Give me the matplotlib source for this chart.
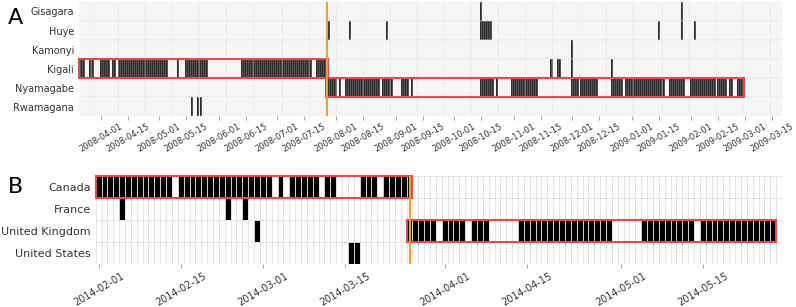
import numpy as np
import pandas as pd
import matplotlib.pyplot as plt
from matplotlib.colors import ListedColormap
from matplotlib.patches import Rectangle

# ---- panel A: districts ----
a_start, a_end = "2008-03-21", "2009-03-20"
a_names = ["Gisagara", "Huye", "Kamonyi", "Kigali", "Nyamagabe", "Rwamagana"]
gisagara = [("2008-10-15", "2008-10-15"), ("2009-01-27", "2009-01-27")]
huye = [("2008-07-28", "2008-07-28"), ("2008-08-08", "2008-08-08"),
        ("2008-08-27", "2008-08-27"), ("2008-10-15", "2008-10-20"),
        ("2009-01-15", "2009-01-15"), ("2009-01-27", "2009-01-27"),
        ("2009-02-03", "2009-02-03")]
kamonyi = [("2008-12-01", "2008-12-01")]
kigali = [("2008-03-21", "2008-03-23"), ("2008-03-26", "2008-03-28"),
          ("2008-04-01", "2008-04-05"), ("2008-04-07", "2008-04-08"),
          ("2008-04-10", "2008-05-05"), ("2008-05-11", "2008-05-11"),
          ("2008-05-15", "2008-05-26"), ("2008-06-13", "2008-07-19"),
          ("2008-07-22", "2008-07-27"), ("2008-11-20", "2008-11-21"),
          ("2008-11-24", "2008-11-25"), ("2008-12-01", "2008-12-01"),
          ("2008-12-22", "2008-12-22")]
nyamagabe = [("2008-07-27", "2008-08-01"), ("2008-08-03", "2008-08-03"),
             ("2008-08-06", "2008-08-23"), ("2008-08-25", "2008-08-30"),
             ("2008-09-04", "2008-09-07"), ("2008-09-09", "2008-09-09"),
             ("2008-10-15", "2008-10-21"), ("2008-10-23", "2008-10-23"),
             ("2008-10-31", "2008-11-13"), ("2008-12-01", "2008-12-04"),
             ("2008-12-06", "2008-12-14"), ("2008-12-22", "2008-12-27"),
             ("2008-12-29", "2009-01-18"), ("2009-01-21", "2009-01-28"),
             ("2009-02-01", "2009-02-13"), ("2009-02-15", "2009-02-19"),
             ("2009-02-21", "2009-02-22"), ("2009-02-25", "2009-02-28")]
rwamagana = [("2008-05-18", "2008-05-18"), ("2008-05-21", "2008-05-21"),
             ("2008-05-23", "2008-05-23")]
a_runs = [gisagara, huye, kamonyi, kigali, nyamagabe, rwamagana]
a_switch = "2008-07-27"
a_pair = ("Kigali", "Nyamagabe")
a_ticks = ["2008-04-01", "2008-04-15", "2008-05-01", "2008-05-15", "2008-06-01",
           "2008-06-15", "2008-07-01", "2008-07-15", "2008-08-01", "2008-08-15",
           "2008-09-01", "2008-09-15", "2008-10-01", "2008-10-15", "2008-11-01",
           "2008-11-15", "2008-12-01", "2008-12-15", "2009-01-01", "2009-01-15",
           "2009-02-01", "2009-02-15", "2009-03-01", "2009-03-15"]

# ---- panel B: countries ----
b_start, b_end = "2014-02-01", "2014-05-28"
b_names = ["Canada", "France", "United Kingdom", "United States"]
canada = [("2014-02-01", "2014-02-13"), ("2014-02-15", "2014-03-02"),
          ("2014-03-04", "2014-03-04"), ("2014-03-06", "2014-03-10"),
          ("2014-03-12", "2014-03-13"), ("2014-03-18", "2014-03-20"),
          ("2014-03-22", "2014-03-26")]
france = [("2014-02-05", "2014-02-05"), ("2014-02-23", "2014-02-23"),
          ("2014-02-26", "2014-02-26")]
uk = [("2014-02-28", "2014-02-28"), ("2014-03-26", "2014-03-30"),
      ("2014-04-01", "2014-04-04"), ("2014-04-06", "2014-04-08"),
      ("2014-04-14", "2014-04-29"), ("2014-05-05", "2014-05-13"),
      ("2014-05-15", "2014-05-27")]
us = [("2014-03-16", "2014-03-17")]
b_runs = [canada, france, uk, us]
b_switch = "2014-03-26"
b_pair = ("Canada", "United Kingdom")
b_ticks = ["2014-02-01", "2014-02-15", "2014-03-01", "2014-03-15",
           "2014-04-01", "2014-04-15", "2014-05-01", "2014-05-15"]

cmap = ListedColormap(["white", "black"])
red = "#e5484d"
orange = "#f2a31c"
txt = "#333333"


def panel(ax, names, runs, start, end, switch, pair, ticks, ysize, xsize, lw):
    days = pd.date_range(start, end)
    d0 = days[0]
    grid = np.zeros((len(names), len(days)))
    for r, row in enumerate(runs):
        for s, e in row:
            i0 = (pd.Timestamp(s) - d0).days
            i1 = (pd.Timestamp(e) - d0).days
            grid[r, i0:i1 + 1] = 1
    ax.pcolormesh(np.arange(len(days) + 1), np.arange(len(names) + 1), grid,
                  cmap=cmap, vmin=0, vmax=1, edgecolors="#e0e0e0",
                  linewidth=lw, antialiased=True)
    ax.set_xlim(0, len(days))
    ax.set_ylim(len(names), 0)

    sw = (pd.Timestamp(switch) - d0).days
    r0, r1 = names.index(pair[0]), names.index(pair[1])
    last = np.nonzero(grid[r1])[0].max()
    ax.add_patch(Rectangle((0, r0), sw + 1, 1, fill=False, ec=red, lw=1.5,
                           clip_on=False, zorder=3))
    ax.add_patch(Rectangle((sw, r1), last + 1 - sw, 1, fill=False, ec=red,
                           lw=1.5, clip_on=False, zorder=3))
    ax.axvline(sw + 0.5, color=orange, lw=1.5, zorder=4)

    ax.set_yticks(np.arange(len(names)) + 0.5)
    ax.set_yticklabels(names, fontsize=ysize, color=txt)
    xpos = [(pd.Timestamp(t) - d0).days + 0.5 for t in ticks]
    ax.set_xticks(xpos)
    ax.set_xticklabels(ticks, rotation=30, ha="center", fontsize=xsize, color=txt)
    ax.tick_params(axis="y", length=0, pad=3.5)
    ax.tick_params(axis="x", length=3, width=0.8, color="#aaaaaa", pad=1.5)
    for sp in ax.spines.values():
        sp.set_visible(False)


fig = plt.figure(figsize=(7.96, 3.07), dpi=100)
ax_a = fig.add_axes([0.0992, 0.622, 0.8845, 0.3715])
ax_b = fig.add_axes([0.1202, 0.139, 0.8622, 0.2877])

panel(ax_a, a_names, a_runs, a_start, a_end, a_switch, a_pair, a_ticks, 7, 6, 0.3)
panel(ax_b, b_names, b_runs, b_start, b_end, b_switch, b_pair, b_ticks, 8, 7, 0.6)

fig.text(0.019, 0.94, "A", fontsize=16, ha="center", va="center", color="black")
fig.text(0.019, 0.39, "B", fontsize=16, ha="center", va="center", color="black")

fig.savefig("out.png", dpi=100)
